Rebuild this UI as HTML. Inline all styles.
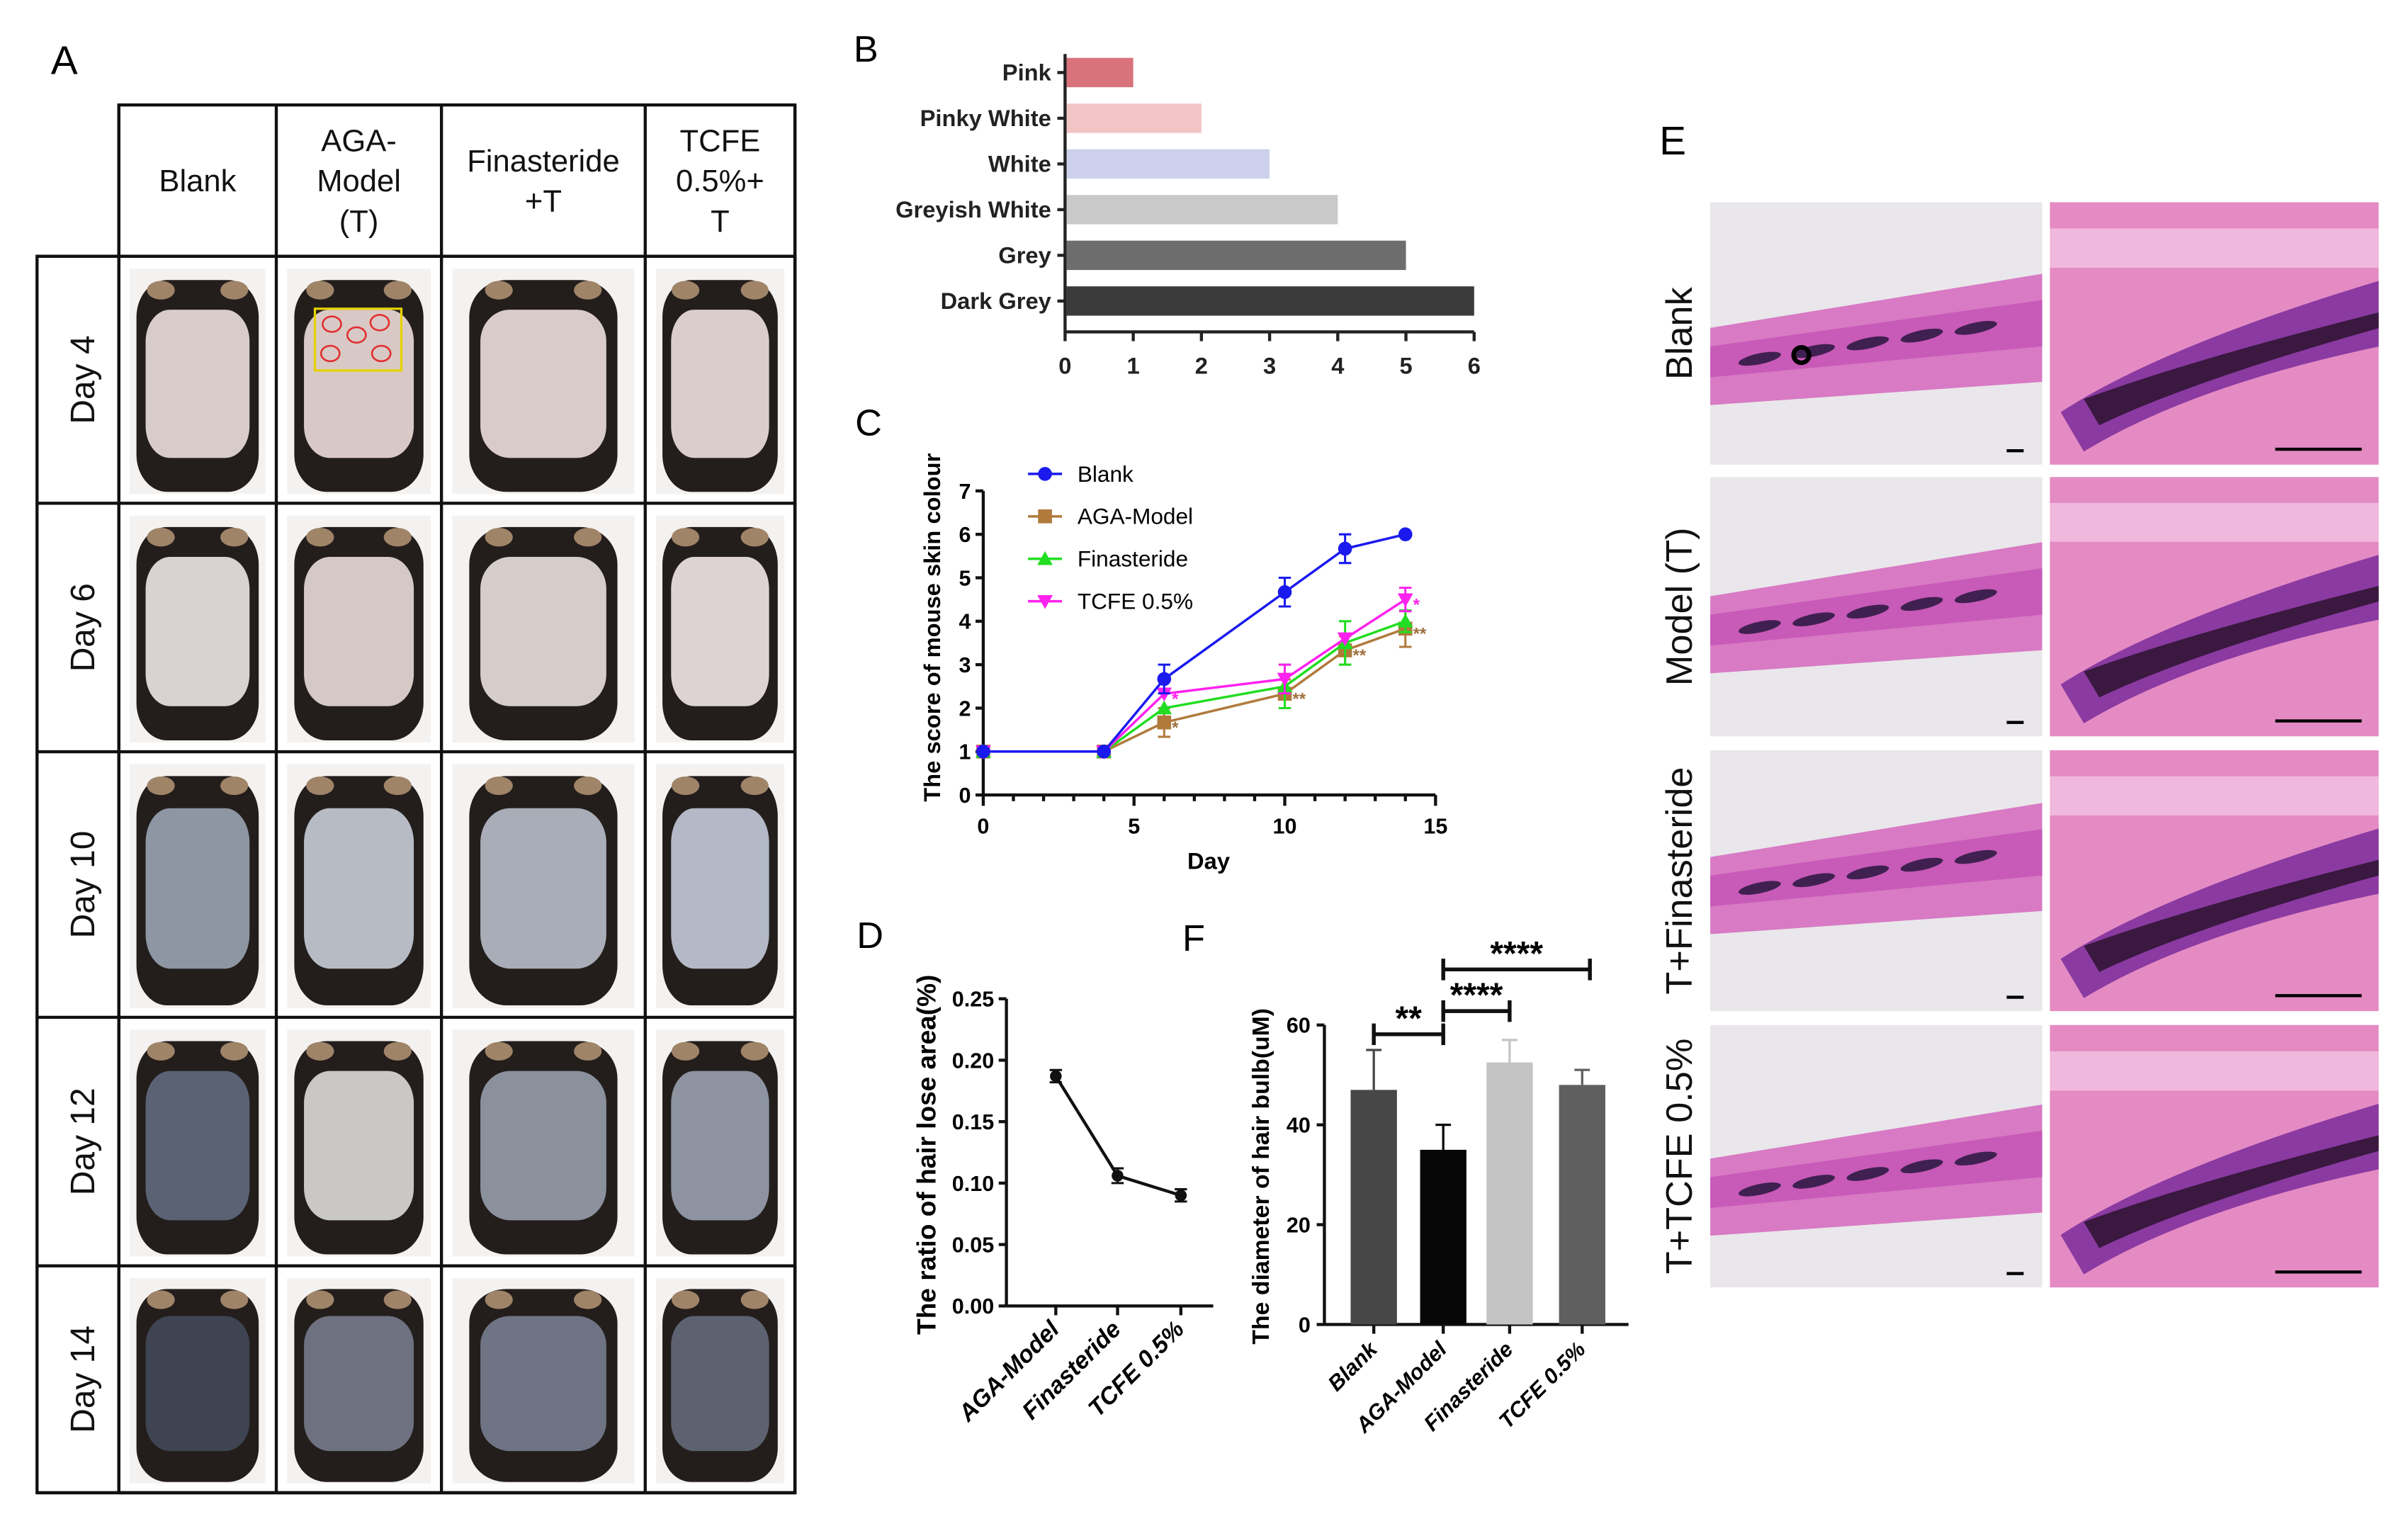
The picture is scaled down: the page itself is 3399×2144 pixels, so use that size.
<!DOCTYPE html>
<html><head><meta charset="utf-8">
<style>
html,body{margin:0;padding:0;background:#fff;}
svg{display:block;font-family:"Liberation Sans",Arial,sans-serif;}
</style></head>
<body>
<svg id="fig" xmlns="http://www.w3.org/2000/svg" width="3399" height="2144" viewBox="0 0 1560 984" preserveAspectRatio="none">
<rect width="1560" height="984" fill="#fff"/>
<g id="panelA"></g>
<g id="panelB"></g>
<g id="panelC"></g>
<g id="panelD"></g>
<g id="panelF"></g>
<g id="panelE"></g>
</svg>
<script>
// ---------- data ----------
const bCategories = ["Pink","Pinky White","White","Greyish White","Grey","Dark Grey"];
const bValues = [1,2,3,4,5,6];
const bColors = ["#d8727b","#f2c4c6","#cdd0ea","#c9c9c9","#6d6d6d","#3b3b3b"];
const bTicks = [0,1,2,3,4,5,6];

const cDays = [0,4,6,10,12,14];
const cBlank = [1,1,2.67,4.67,5.67,6];
const cBlankErr = [0,0,0.33,0.33,0.33,0];
const cModel = [1,1,1.67,2.33,3.33,3.83];
const cModelErr = [0,0,0.33,0.33,0.33,0.42];
const cFin = [1,1,2,2.5,3.5,4];
const cFinErr = [0,0,0,0.5,0.5,0.25];
const cTcfe = [1,1,2.33,2.67,3.6,4.5];
const cTcfeErr = [0,0,0,0.33,0,0.27];
const cYTicks = [0,1,2,3,4,5,6,7];
const cXTicks = [0,5,10,15];

const dCategories = ["AGA-Model","Finasteride","TCFE 0.5%"];
const dValues = [0.187,0.106,0.090];
const dErr = [0.005,0.006,0.005];
const dTicks = [0,0.05,0.10,0.15,0.20,0.25];

const fCategories = ["Blank","AGA-Model","Finasteride","TCFE 0.5%"];
const fValues = [47,35,52.5,48];
const fErr = [8,5,4.5,3];
const fColors = ["#474747","#060606","#c4c4c4","#5f5f5f"];
const fTicks = [0,20,40,60];

const NS="http://www.w3.org/2000/svg";
function mk(parent,tag,attrs,text){const e=document.createElementNS(NS,tag);for(const k in attrs)e.setAttribute(k,attrs[k]);if(text!==undefined)e.textContent=text;parent.appendChild(e);return e;}

// ---------- Panel A ----------
(function(){
const g=document.getElementById('panelA');
let t=mk(g,'text',{x:33,y:48,'font-size':26},'A');

const cols=[77,179,286,418,515];
const rows=[166,326,487,659,820,967];
const heads=[["Blank"],["AGA-","Model","(T)"],["Finasteride","+T"],["TCFE","0.5%+","T"]];
const days=["Day 4","Day 6","Day 10","Day 12","Day 14"];
const patch=[["#d8cccb","#d9c9c6","#d8cbc9","#dacdcc"],["#d9d2d3","#d5c9c6","#d6cdcb","#ddd3d4"],["#8e95a3","#b7bcc4","#a9adb7","#b3b9c6"],["#5a6274","#c9c8c6","#8a909c","#8d93a0"],["#3f4452","#6d7180","#6f7484","#5d6270"]];
mk(g,'rect',{x:77,y:68,width:438,height:899,fill:'none',stroke:'#111','stroke-width':2});
mk(g,'rect',{x:24,y:166,width:491,height:801,fill:'none',stroke:'#111','stroke-width':2});
cols.forEach(x=>mk(g,'line',{x1:x,y1:68,x2:x,y2:967,stroke:'#111','stroke-width':2}));
rows.forEach(y=>mk(g,'line',{x1:24,y1:y,x2:515,y2:y,stroke:'#111','stroke-width':2}));
heads.forEach((h,i)=>{const cx=(cols[i]+cols[i+1])/2;const n=h.length;
 h.forEach((s,j)=>{const e=mk(g,'text',{x:cx,y:117+(j-(n-1)/2)*26+7,'text-anchor':'middle','font-size':20,fill:'#111'},s);
 });});
days.forEach((d,r)=>{const cy=(rows[r]+rows[r+1])/2;
 const e=mk(g,'text',{x:0,y:0,transform:`translate(61,${cy}) rotate(-90)`,'text-anchor':'middle','font-size':22,fill:'#111'},d);
 
 for(let c=0;c<4;c++){const x0=cols[c]+7,x1=cols[c+1]-7,y0=rows[r]+8,y1=rows[r+1]-6;
  const ph=mk(g,'g',{});
  mk(ph,'rect',{x:x0,y:y0,width:x1-x0,height:y1-y0,fill:'#f4f2f0'});
  const cx=(x0+x1)/2,w=Math.min((x1-x0)*0.45,48),h=(y1-y0)*0.47,cyy=(y0+y1)/2+3;
  mk(ph,'rect',{x:cx-w,y:cyy-h,width:2*w,height:2*h,rx:w*0.5,ry:h*0.35,fill:'#231e1c'});
  mk(ph,'ellipse',{cx:cx-w*0.6,cy:y0+14,rx:9,ry:6,fill:'#a08468'});
  mk(ph,'ellipse',{cx:cx+w*0.6,cy:y0+14,rx:9,ry:6,fill:'#a08468'});
  mk(ph,'rect',{x:cx-w*0.85,y:cyy-h*0.72,width:w*1.7,height:h*1.4,rx:w*0.4,ry:h*0.3,fill:patch[r][c]});
 }
});
mk(g,'rect',{x:204,y:200,width:56,height:40,fill:'none',stroke:'#e6d200','stroke-width':1.5});
[[215,210],[231,217],[246,209],[214,229],[247,229]].forEach(p=>mk(g,'ellipse',{cx:p[0],cy:p[1],rx:6,ry:5,fill:'none',stroke:'#e03030','stroke-width':1.2}));
})();

// ---------- Panel B ----------
(function(){
const g=document.getElementById('panelB');
let t=mk(g,'text',{x:553,y:40,'font-size':24},'B');

const x0=690,x1=955,yTop=35,yBot=215;
const sx=v=>x0+(v-0)/(6-0)*(x1-x0);
const step=29.6, barH=19;
const cy=i=>47+i*step;
mk(g,'line',{x1:x0,y1:yTop,x2:x0,y2:yBot,stroke:'#222','stroke-width':2});
mk(g,'line',{x1:x0,y1:yBot,x2:x1,y2:yBot,stroke:'#222','stroke-width':2});
bCategories.forEach((c,i)=>{
 const b=mk(g,'rect',{x:x0+1,y:cy(i)-barH/2,width:sx(bValues[i])-x0-1,height:barH,fill:bColors[i]});
 
 mk(g,'line',{x1:x0-5,y1:cy(i),x2:x0,y2:cy(i),stroke:'#222','stroke-width':2});
 const l=mk(g,'text',{x:x0-9,y:cy(i)+5,'text-anchor':'end','font-size':15,'font-weight':'bold',fill:'#222'},c);
 
});
bTicks.forEach(v=>{mk(g,'line',{x1:sx(v),y1:yBot,x2:sx(v),y2:yBot+6,stroke:'#222','stroke-width':2});
 const l=mk(g,'text',{x:sx(v),y:yBot+27,'text-anchor':'middle','font-size':15,'font-weight':'bold',fill:'#222'},v);
 });
})();

// ---------- Panel C ----------
(function(){
const g=document.getElementById('panelC');
let t=mk(g,'text',{x:554,y:282,'font-size':24},'C');

const X0=637,X1=930,Y0=515,Y1=318;
const sx=v=>X0+v/15*(X1-X0), sy=v=>Y0-v/7*(Y0-Y1);
mk(g,'line',{x1:X0,y1:Y1,x2:X0,y2:Y0,stroke:'#111','stroke-width':2});
mk(g,'line',{x1:X0,y1:Y0,x2:X1,y2:Y0,stroke:'#111','stroke-width':2});
cYTicks.forEach(v=>{mk(g,'line',{x1:X0-5,y1:sy(v),x2:X0,y2:sy(v),stroke:'#111','stroke-width':2});
 const l=mk(g,'text',{x:X0-8,y:sy(v)+5,'text-anchor':'end','font-size':14,'font-weight':'bold'},v);
 });
for(let v=0;v<=15;v++){mk(g,'line',{x1:sx(v),y1:Y0,x2:sx(v),y2:Y0+(v%5===0?7:4),stroke:'#111','stroke-width':2});}
cXTicks.forEach(v=>{const l=mk(g,'text',{x:sx(v),y:Y0+25,'text-anchor':'middle','font-size':14,'font-weight':'bold'},v);
 });
let yl=mk(g,'text',{transform:`translate(609,${(Y0+Y1)/2-10}) rotate(-90)`,'text-anchor':'middle','font-size':15,'font-weight':'bold'},'The score of mouse skin colour');

let xl=mk(g,'text',{x:783,y:563,'text-anchor':'middle','font-size':15,'font-weight':'bold'},'Day');

const series=[
 {name:'AGA-Model',vals:cModel,err:cModelErr,col:'#b07a3c',mk:'sq'},
 {name:'Finasteride',vals:cFin,err:cFinErr,col:'#22dd22',mk:'tri'},
 {name:'TCFE 0.5%',vals:cTcfe,err:cTcfeErr,col:'#ff22ee',mk:'itri'},
 {name:'Blank',vals:cBlank,err:cBlankErr,col:'#1a1aee',mk:'dot'}];
function marker(gg,type,x,y,col){
 if(type==='dot')return mk(gg,'circle',{cx:x,cy:y,r:4.5,fill:col});
 if(type==='sq')return mk(gg,'rect',{x:x-4.5,y:y-4.5,width:9,height:9,fill:col});
 if(type==='tri')return mk(gg,'polygon',{points:`${x},${y-5} ${x-5},${y+4} ${x+5},${y+4}`,fill:col});
 return mk(gg,'polygon',{points:`${x},${y+5} ${x-5},${y-4} ${x+5},${y-4}`,fill:col});
}
series.forEach(s=>{
 const sg=mk(g,'g',{});
 const pts=cDays.map((d,i)=>sx(d)+','+sy(s.vals[i])).join(' ');
 mk(sg,'polyline',{points:pts,fill:'none',stroke:s.col,'stroke-width':1.6});
 cDays.forEach((d,i)=>{const x=sx(d),e=s.err[i];
  if(e>0){mk(sg,'line',{x1:x,y1:sy(s.vals[i]-e),x2:x,y2:sy(s.vals[i]+e),stroke:s.col,'stroke-width':1.4});
   [s.vals[i]-e,s.vals[i]+e].forEach(v=>mk(sg,'line',{x1:x-4,y1:sy(v),x2:x+4,y2:sy(v),stroke:s.col,'stroke-width':1.4}));}
  const m=marker(sg,s.mk,x,sy(s.vals[i]),s.col);
  
 });
});
[[6,cModel[2],'*','#a07040'],[10,cModel[3],'**','#a07040'],[12,cModel[4],'**','#a07040'],[14,cModel[5],'**','#a07040'],[6,cTcfe[2],'*','#ff22ee'],[14,cTcfe[5],'*','#ff22ee']].forEach(a=>{
 const l=mk(g,'text',{x:sx(a[0])+5,y:sy(a[1])+7,'font-size':11,'font-weight':'bold',fill:a[3]},a[2]);
 });
const leg=[['Blank','#1a1aee','dot'],['AGA-Model','#b07a3c','sq'],['Finasteride','#22dd22','tri'],['TCFE 0.5%','#ff22ee','itri']];
leg.forEach((L,i)=>{const y=307+i*27.5;const lg=mk(g,'g',{});
 mk(lg,'line',{x1:666,y1:y,x2:688,y2:y,stroke:L[1],'stroke-width':1.6});marker(lg,L[2],677,y,L[1]);
 mk(lg,'text',{x:698,y:y+5,'font-size':14.5},L[0]);});
})();

// ---------- Panel D ----------
(function(){
const g=document.getElementById('panelD');
let t=mk(g,'text',{x:555,y:614,'font-size':24},'D');

const X0=652,X1=786,Y0=846,Y1=647;
const xs=[684,724,765];
const sy=v=>Y0-v/0.25*(Y0-Y1);
mk(g,'line',{x1:X0,y1:Y1,x2:X0,y2:Y0,stroke:'#111','stroke-width':2});
mk(g,'line',{x1:X0,y1:Y0,x2:X1,y2:Y0,stroke:'#111','stroke-width':2});
dTicks.forEach(v=>{mk(g,'line',{x1:X0-5,y1:sy(v),x2:X0,y2:sy(v),stroke:'#111','stroke-width':2});
 const l=mk(g,'text',{x:X0-8,y:sy(v)+5,'text-anchor':'end','font-size':14,'font-weight':'bold'},v.toFixed(2));
 });
let yl=mk(g,'text',{transform:`translate(606,748) rotate(-90)`,'text-anchor':'middle','font-size':17,'font-weight':'bold'},'The ratio of hair lose area(%)');

mk(g,'polyline',{points:dValues.map((v,i)=>xs[i]+','+sy(v)).join(' '),fill:'none',stroke:'#111','stroke-width':2});
dCategories.forEach((c,i)=>{const x=xs[i];
 mk(g,'line',{x1:x,y1:Y0,x2:x,y2:Y0+6,stroke:'#111','stroke-width':2});
 mk(g,'line',{x1:x,y1:sy(dValues[i]-dErr[i]),x2:x,y2:sy(dValues[i]+dErr[i]),stroke:'#111','stroke-width':1.4});
 [dValues[i]-dErr[i],dValues[i]+dErr[i]].forEach(v=>mk(g,'line',{x1:x-4,y1:sy(v),x2:x+4,y2:sy(v),stroke:'#111','stroke-width':1.4}));
 const p=mk(g,'circle',{cx:x,cy:sy(dValues[i]),r:3.8,fill:'#111'});
 
 const l=mk(g,'text',{transform:`translate(${x+3},${Y0+16}) rotate(-45)`,'text-anchor':'end','font-size':15.5,'font-weight':'bold','font-style':'italic'},c);
 
});
})();

// ---------- Panel F ----------
(function(){
const g=document.getElementById('panelF');
let t=mk(g,'text',{x:766,y:616,'font-size':24},'F');

const X0=858,X1=1055,Y0=858,Y1=664;
const xs=[890,935,978,1025];const bw=30;
const sy=v=>Y0-v/60*(Y0-Y1);
mk(g,'line',{x1:X0,y1:Y1,x2:X0,y2:Y0,stroke:'#111','stroke-width':2});
mk(g,'line',{x1:X0,y1:Y0,x2:X1,y2:Y0,stroke:'#111','stroke-width':2});
fTicks.forEach(v=>{mk(g,'line',{x1:X0-5,y1:sy(v),x2:X0,y2:sy(v),stroke:'#111','stroke-width':2});
 const l=mk(g,'text',{x:X0-9,y:sy(v)+5,'text-anchor':'end','font-size':14,'font-weight':'bold'},v);
 });
let yl=mk(g,'text',{transform:`translate(822,762) rotate(-90)`,'text-anchor':'middle','font-size':15.5,'font-weight':'bold'},'The diameter of  hair bulb(uM)');

fCategories.forEach((c,i)=>{const x=xs[i];
 mk(g,'line',{x1:x,y1:sy(fValues[i]),x2:x,y2:sy(fValues[i]+fErr[i]),stroke:fColors[i],'stroke-width':1.5});
 mk(g,'line',{x1:x-5,y1:sy(fValues[i]+fErr[i]),x2:x+5,y2:sy(fValues[i]+fErr[i]),stroke:fColors[i],'stroke-width':1.5});
 const b=mk(g,'rect',{x:x-bw/2,y:sy(fValues[i]),width:bw,height:Y0-sy(fValues[i]),fill:fColors[i]});
 
 mk(g,'line',{x1:x,y1:Y0,x2:x,y2:Y0+6,stroke:'#111','stroke-width':2});
 const l=mk(g,'text',{transform:`translate(${x+3},${Y0+17}) rotate(-45)`,'text-anchor':'end','font-size':14,'font-weight':'bold','font-style':'italic'},c);
 
});
const br=[[xs[0],xs[1],670,'**'],[xs[1],xs[2],655,'****'],[xs[1],1030,628,'****']];
br.forEach(b=>{const bg=mk(g,'g',{});
 mk(bg,'line',{x1:b[0],y1:b[2],x2:b[1],y2:b[2],stroke:'#111','stroke-width':2.5});
 mk(bg,'line',{x1:b[0],y1:b[2]-7,x2:b[0],y2:b[2]+7,stroke:'#111','stroke-width':2.5});
 mk(bg,'line',{x1:b[1],y1:b[2]-7,x2:b[1],y2:b[2]+7,stroke:'#111','stroke-width':2.5});
 mk(bg,'text',{x:(b[0]+b[1])/2,y:b[2]-3,'text-anchor':'middle','font-size':22,'font-weight':'bold'},b[3]);});
})();

// ---------- Panel E ----------
(function(){
const g=document.getElementById('panelE');
let t=mk(g,'text',{x:1075,y:100,'font-size':26},'E');

const rows=[[131,301],[309,477],[486,655],[664,834]];
const labels=["Blank","Model (T)","T+Finasteride","T+TCFE 0.5%"];
rows.forEach((r,i)=>{const [y0,y1]=r;const h=y1-y0;
 const l=mk(g,'text',{transform:`translate(1096,${(y0+y1)/2}) rotate(-90)`,'text-anchor':'middle','font-size':24,fill:'#111'},labels[i]);
 
 const L=mk(g,'g',{});
 mk(L,'rect',{x:1108,y:y0,width:215,height:h,fill:'#e9e7eb'});
 const bandY=[y0+h*0.42,y0+h*0.4,y0+h*0.35,y0+h*0.45][i];
 mk(L,'polygon',{points:`1108,${bandY+10} 1323,${bandY-25} 1323,${bandY+45} 1108,${bandY+60}`,fill:'#d87ac4'});
 mk(L,'polygon',{points:`1108,${bandY+22} 1323,${bandY-8} 1323,${bandY+22} 1108,${bandY+42}`,fill:'#c85ab8'});
 for(let k=0;k<5;k++)mk(L,'ellipse',{cx:1140+k*35,cy:bandY+30-k*5,rx:14,ry:3.5,fill:'#402050',transform:`rotate(-12 ${1140+k*35} ${bandY+30-k*5})`});
 mk(L,'line',{x1:1300,y1:y1-9,x2:1311,y2:y1-9,stroke:'#000','stroke-width':2});
 const R=mk(g,'g',{});
 mk(R,'rect',{x:1328,y:y0,width:213,height:h,fill:'#e58bc4'});
 mk(R,'rect',{x:1328,y:y0+h*0.1,width:213,height:h*0.15,fill:'#f0b8dc'});
 mk(R,'path',{d:`M1335,${y0+h*0.8} Q1400,${y0+h*0.55} 1541,${y0+h*0.3} L1541,${y0+h*0.55} Q1420,${y0+h*0.7} 1350,${y0+h*0.95} Z`,fill:'#8a3aa0'});
 mk(R,'path',{d:`M1350,${y0+h*0.75} Q1420,${y0+h*0.6} 1541,${y0+h*0.42} L1541,${y0+h*0.48} Q1420,${y0+h*0.68} 1360,${y0+h*0.85} Z`,fill:'#3a1840'});
 mk(R,'line',{x1:1474,y1:y1-10,x2:1530,y2:y1-10,stroke:'#000','stroke-width':2});
});
mk(g,'circle',{cx:1167,cy:230,r:5,fill:'none',stroke:'#000','stroke-width':3});
})();
</script>
</body></html>
